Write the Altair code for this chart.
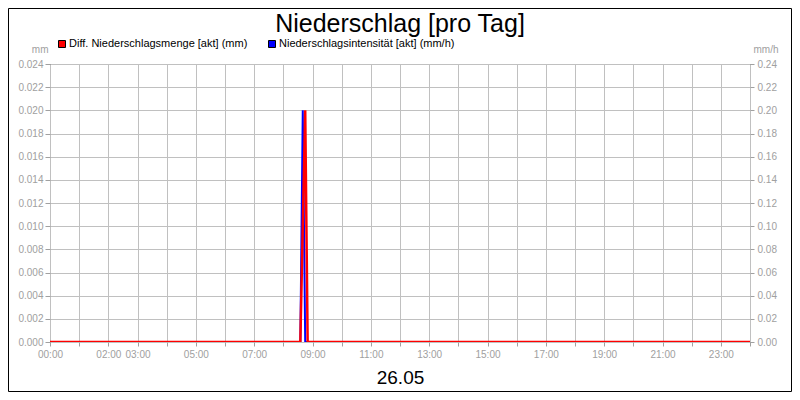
import altair as alt
import pandas as pd

TITLE = "Niederschlag [pro Tag]"
DATE_LABEL = "26.05"
SERIES = ["Diff. Niederschlagsmenge [akt] (mm)", "Niederschlagsintensität [akt] (mm/h)"]
COLORS = ["#ff0000", "#0000ff"]

RED_TIMES = ["00:00", "08:35", "08:45", "08:50", "24:00"]
RED_VALUES = [0.0, 0.0, 0.02, 0.0, 0.0]
BLUE_TIMES = ["00:00", "08:35", "08:40", "08:45", "24:00"]
BLUE_VALUES = [0.0, 0.0, 0.2, 0.0, 0.0]

LEFT_TICKS = [round(i * 0.002, 3) for i in range(13)]
RIGHT_TICKS = [round(i * 0.02, 2) for i in range(13)]
HOUR_TICKS = list(range(25))
SHOWN_HOURS = [0, 2, 3, 5, 7, 9, 11, 13, 15, 17, 19, 21, 23]

FONT = "Liberation Sans"
GRAY = "#a0a0a0"
GRID = "#c0c0c0"


def to_hours(t):
    h, m = t.split(":")
    return int(h) + int(m) / 60.0


red_df = pd.DataFrame({"h": [to_hours(t) for t in RED_TIMES], "v": RED_VALUES})
blue_df = pd.DataFrame({"h": [to_hours(t) for t in BLUE_TIMES], "v": BLUE_VALUES})

shown = ",".join(str(h) for h in SHOWN_HOURS)
label_expr = f"indexof([{shown}], datum.value) >= 0 ? (datum.value < 10 ? '0' : '') + datum.value + ':00' : ''"

x_enc = alt.X(
    "h:Q",
    scale=alt.Scale(domain=[0, 24], nice=False, zero=False),
    axis=alt.Axis(
        values=HOUR_TICKS, labelExpr=label_expr, labelOverlap=False, labelFlush=False,
        grid=True, gridColor=GRID, domain=False, tickColor=GRAY, tickSize=4,
        labelColor=GRAY, labelFont=FONT, labelFontSize=10, labelPadding=3,
        title=DATE_LABEL, titleFont=FONT, titleFontSize=19, titleFontWeight="normal",
        titleColor="black", titleY=35, titleBaseline="middle",
    ),
)

blue = alt.Chart(blue_df).mark_line(color=COLORS[1], strokeWidth=2, clip=True).encode(
    x=x_enc,
    y=alt.Y(
        "v:Q",
        scale=alt.Scale(domain=[0, 0.24], nice=False),
        axis=alt.Axis(
            orient="right", values=RIGHT_TICKS, format=".2f", grid=False, domain=False,
            tickColor=GRAY, tickSize=4, labelColor=GRAY, labelFont=FONT, labelFontSize=10,
            labelPadding=3, title="mm/h", titleAngle=0, titleX=3, titleY=-15,
            titleAlign="left", titleBaseline="middle", titleColor=GRAY, titleFont=FONT,
            titleFontSize=10, titleFontWeight="normal",
        ),
    ),
)

red = alt.Chart(red_df).mark_line(color=COLORS[0], strokeWidth=2.5, clip=True).encode(
    x=x_enc,
    y=alt.Y(
        "v:Q",
        scale=alt.Scale(domain=[0, 0.024], nice=False),
        axis=alt.Axis(
            orient="left", values=LEFT_TICKS, format=".3f", grid=True, gridColor=GRID,
            domain=False, tickColor=GRAY, tickSize=5, labelColor=GRAY, labelFont=FONT,
            labelFontSize=10, labelPadding=2, title="mm", titleAngle=0, titleX=-2,
            titleY=-15, titleAlign="right", titleBaseline="middle", titleColor=GRAY,
            titleFont=FONT, titleFontSize=10, titleFontWeight="normal",
        ),
    ),
)

one = pd.DataFrame({"k": [0]})

title = alt.Chart(pd.DataFrame({"t": [TITLE]})).mark_text(
    font=FONT, fontSize=25, baseline="alphabetic", align="center", color="black"
).encode(text="t:N", x=alt.value(350), y=alt.value(-32))

leg_layers = []
for i, (lab, col, sx) in enumerate(zip(SERIES, COLORS, [12, 222])):
    leg_layers.append(
        alt.Chart(one).mark_square(size=49, filled=True, color=col, stroke="black", strokeWidth=1, opacity=1)
        .encode(x=alt.value(sx), y=alt.value(-20))
    )
    leg_layers.append(
        alt.Chart(pd.DataFrame({"t": [lab]})).mark_text(
            font=FONT, fontSize=11, align="left", baseline="middle", color="black"
        ).encode(text="t:N", x=alt.value(sx + 7), y=alt.value(-20))
    )

border = alt.Chart(one).mark_rect(fill="transparent", stroke="black", strokeWidth=1).encode(
    x=alt.value(-41.5), x2=alt.value(741.5), y=alt.value(-55.5), y2=alt.value(327.5)
)

chart = (
    alt.layer(blue, red, title, *leg_layers, border)
    .resolve_scale(y="independent")
    .properties(
        width=700, height=278,
        padding={"left": 42, "top": 56, "right": 42, "bottom": 50},
        autosize=alt.AutoSizeParams(type="none"),
        background="white",
    )
    .configure_view(stroke="black", strokeWidth=1)
)

chart.save("out.html", embed_options={"renderer": "svg", "actions": False})
